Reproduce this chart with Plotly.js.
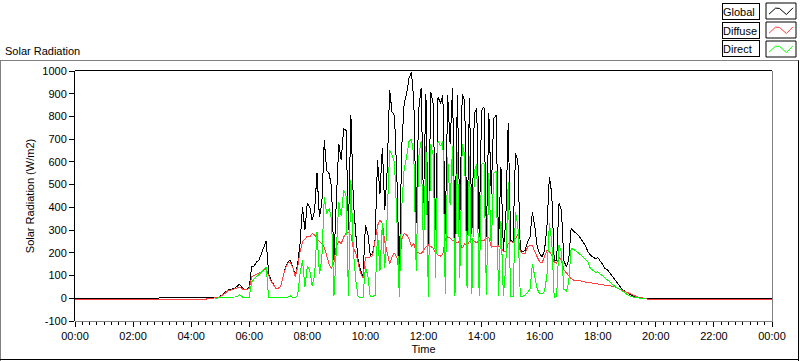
<!DOCTYPE html>
<html>
<head>
<meta charset="utf-8">
<script src="https://cdn.plot.ly/plotly-3.0.1.min.js"></script>
<style>
  html, body { margin: 0; padding: 0; background: #ffffff; }
  #chart { width: 800px; height: 361px; }
  .scatterlayer .js-line { shape-rendering: crispEdges; }
</style>
</head>
<body>
<div id="chart"></div>
<script>
// ---------------- DATA ----------------
const dayDate = '2024-01-01';
const nextDayDate = '2024-01-02';
const nightBefore = ['00:00', '04:30', '04:35', '04:40', '04:45'];
const nightAfter = ['19:50', '24:00'];
const slotStart = '04:50';
const slotEnd = '19:45';
const slotMinutes = 5;

const seriesNames = ['Global', 'Diffuse', 'Direct'];

const globalRad = [
  0, 0, 0, 0, 0,
  0, 2,
  9, 16, 25, 35, 38, 43, 45, 53, 62, 47, 40, 40,
  47, 138, 141, 160, 167, 196, 226, 252, 109, 79, 62, 43,
  45, 53, 97, 138, 160, 167, 138, 97, 152, 240, 402, 300,
  420, 402, 343, 387, 549, 358, 417, 695, 563, 549, 490, 167,
  431, 680, 607, 747, 739, 300, 805, 431, 285, 167, 123, 94,
  321, 285, 189, 197, 260, 607, 460, 663, 387, 563, 918, 820,
  805, 534, 109, 666, 857, 900, 967, 996, 870, 330, 827, 923,
  420, 900, 240, 908, 857, 300, 886, 857, 893, 285, 893, 680,
  923, 260, 893, 343, 900, 871, 280, 879, 285, 813, 835, 270,
  827, 842, 270, 813, 460, 790, 805, 235, 578, 210, 343, 770,
  255, 250, 637, 607, 211, 204, 211, 248, 270, 380, 314, 226,
  197, 182, 211, 314, 534, 460, 167, 167, 417, 387, 167, 138,
  167, 307, 296, 287, 277, 263, 248, 229, 204, 189, 182, 174,
  179, 167, 150, 130, 126, 111, 97, 82, 67, 53, 41, 32,
  25, 19, 13, 9, 6, 3, 1, 0, 0, 0,
  0, 0
];

const diffuseRad = [
  -5, -5, 0, 0, 0,
  0, 2,
  8, 14, 22, 32, 35, 40, 42, 46, 48, 42, 37, 37,
  44, 94, 101, 106, 111, 116, 126, 130, 101, 76, 60, 42,
  44, 52, 95, 135, 156, 158, 135, 95, 138, 204, 248, 262,
  273, 270, 285, 280, 260, 250, 240, 225, 190, 150, 130, 160,
  230, 250, 240, 270, 285, 290, 280, 220, 200, 160, 110, 90,
  180, 180, 182, 188, 250, 320, 343, 330, 250, 200, 153, 182,
  200, 180, 105, 260, 285, 280, 260, 230, 240, 205, 200, 195,
  210, 226, 235, 226, 220, 200, 190, 185, 195, 260, 270, 265,
  255, 250, 245, 250, 220, 240, 230, 250, 260, 250, 245, 255,
  255, 255, 262, 270, 226, 226, 226, 230, 226, 205, 204, 240,
  250, 245, 262, 280, 205, 197, 196, 226, 233, 233, 204, 182,
  160, 155, 182, 211, 205, 190, 160, 155, 180, 167, 125, 110,
  100, 87, 80, 77, 78, 76, 73, 71, 70, 68, 67, 66,
  64, 62, 60, 58, 57, 55, 52, 50, 45, 40, 35, 30,
  26, 21, 17, 12, 8, 5, 2, 0, -5, -5,
  -5, -5
];

const directRad = [
  null, null, null, null, null,
  0, 0,
  2, 3, 4, 4, 4, 4, 4, 6, 16, 6, 4, 4,
  4, 72, 86, 97, 104, 116, 126, 138, 3, 3, 3, 3,
  3, 3, 3, 3, 5, 10, 3, 3, 13, 108, 167, 50,
  140, 125, 55, 100, 290, 105, 175, 445, 370, 395, 350, 8,
  200, 425, 360, 477, 450, 12, 520, 210, 80, 6, 5, 4,
  140, 100, 6, 8, 12, 290, 120, 330, 135, 360, 650, 630,
  600, 350, 4, 400, 570, 620, 690, 700, 630, 120, 620, 690,
  200, 670, 5, 680, 630, 90, 690, 670, 690, 20, 620, 410,
  670, 8, 645, 90, 680, 630, 45, 625, 20, 560, 590, 10,
  590, 593, 15, 549, 220, 549, 560, 10, 340, 8, 140, 510,
  8, 6, 380, 320, 8, 10, 15, 25, 40, 150, 100, 40,
  20, 20, 30, 100, 329, 250, 5, 10, 235, 200, 40, 30,
  70, 219, 215, 209, 200, 190, 182, 170, 158, 130, 123, 115,
  116, 108, 100, 90, 82, 72, 62, 52, 45, 40, 34, 26,
  18, 12, 7, 4, 2, 1, 0, 0, 0, null,
  null, null
];

const yTickVals = [-100, 0, 100, 200, 300, 400, 500, 600, 700, 800, 900, 1000];
const yTickText = ['-100', '0', '100', '200', '300', '400', '500', '600', '700', '800', '900', '1000'];

// ---------------- BUILD TIME AXIS ----------------
function toMinutes(hhmm) { const p = hhmm.split(':'); return (+p[0]) * 60 + (+p[1]); }
function pad(n) { return (n < 10 ? '0' : '') + n; }
function toStamp(hhmm) {
  if (hhmm === '24:00') return nextDayDate + ' 00:00';
  return dayDate + ' ' + hhmm;
}
const timeLabels = nightBefore.slice();
for (let m = toMinutes(slotStart); m <= toMinutes(slotEnd); m += slotMinutes) {
  timeLabels.push(pad(Math.floor(m / 60)) + ':' + pad(m % 60));
}
nightAfter.forEach(t => timeLabels.push(t));
const xs = timeLabels.map(toStamp);

// ---------------- LAYOUT GEOMETRY ----------------
const W = 800, H = 361;
const PL = 75, PR = 772, PT = 71, PB = 321;
const px = x => (x - PL) / (PR - PL);
const py = y => (PB - y) / (PB - PT);

const FONT = 'Liberation Sans, Arial, sans-serif';
const colors = ['#000000', '#ff4040', '#00ff00'];
const seriesData = [globalRad, diffuseRad, directRad];

const traces = seriesNames.map((name, i) => ({
  type: 'scatter', mode: 'lines', name: name,
  x: xs, y: seriesData[i],
  line: { color: colors[i], width: 1 },
  connectgaps: false, showlegend: false, hoverinfo: 'skip'
}));

function lineShape(x0, y0, x1, y1, color) {
  return { type: 'line', xref: 'paper', yref: 'paper', x0: px(x0), y0: py(y0), x1: px(x1), y1: py(y1),
           line: { color: color, width: 1 }, layer: 'above' };
}

const shapes = [
  // outer panel frame
  lineShape(0, 60.5, 799, 60.5, '#808080'),
  lineShape(0.5, 60.5, 0.5, 361, '#808080'),
  lineShape(798.5, 60.5, 798.5, 361, '#000000'),
  lineShape(0, 359.5, 799, 359.5, '#000000'),
  // plot area frame
  lineShape(PL, PT - 0.5, PR, PT - 0.5, '#000000'),
  lineShape(PR + 0.5, PT, PR + 0.5, PB + 1, '#808080'),
  lineShape(PL, PB + 0.5, PR + 0.5, PB + 0.5, '#808080')
];

const annotations = [
  { text: 'Solar Radiation', xref: 'paper', yref: 'paper', x: px(3), y: py(51),
    xanchor: 'left', yanchor: 'middle', showarrow: false, font: { family: FONT, size: 11, color: '#000' } }
];

const legendRowsY = [11, 30, 49];
seriesNames.forEach((name, i) => {
  const yc = legendRowsY[i];
  annotations.push({
    text: name, xref: 'paper', yref: 'paper', x: px(722), y: py(yc),
    xanchor: 'left', yanchor: 'middle', showarrow: false, align: 'left',
    width: 36, height: 15, borderpad: 0, bordercolor: '#000000', borderwidth: 1, bgcolor: '#ffffff',
    font: { family: FONT, size: 11, color: '#000' }
  });
  const x0 = 766, x1 = 796, y0 = yc - 8, y1 = yc + 8;
  shapes.push({ type: 'rect', xref: 'paper', yref: 'paper', x0: px(x0), x1: px(x1), y0: py(y1), y1: py(y0),
                line: { color: '#000000', width: 1 }, fillcolor: '#ffffff', layer: 'above' });
  const pts = [[0.1, 0.7], [0.32, 0.32], [0.45, 0.34], [0.68, 0.72], [0.9, 0.3]];
  const path = pts.map((p, k) => (k ? 'L' : 'M') + px(x0 + p[0] * (x1 - x0)) + ',' + py(y0 + p[1] * (y1 - y0))).join(' ');
  shapes.push({ type: 'path', xref: 'paper', yref: 'paper', path: path,
                line: { color: colors[i], width: 1 }, layer: 'above' });
});

const layout = {
  width: W, height: H,
  margin: { l: PL, r: W - PR, t: PT, b: H - PB, pad: 0 },
  paper_bgcolor: '#ffffff', plot_bgcolor: '#ffffff',
  font: { family: FONT, size: 11, color: '#000000' },
  showlegend: false,
  xaxis: {
    type: 'date',
    range: [toStamp('00:00'), toStamp('24:00')],
    tick0: toStamp('00:00'), dtick: 2 * 3600 * 1000,
    tickformat: '%H:%M',
    ticks: 'outside', ticklen: 5, tickwidth: 1, tickcolor: '#000000',
    minor: { dtick: 15 * 60 * 1000, ticks: 'outside', ticklen: 3, tickwidth: 1, tickcolor: '#000000', showgrid: false },
    showgrid: false, zeroline: false, showline: false,
    tickfont: { family: FONT, size: 11, color: '#000' },
    title: { text: 'Time', font: { family: FONT, size: 11, color: '#000' }, standoff: 4 },
    fixedrange: true
  },
  yaxis: {
    range: [-100, 1000],
    tickmode: 'array', tickvals: yTickVals, ticktext: yTickText,
    ticks: 'outside', ticklen: 5, tickwidth: 1, tickcolor: '#000000',
    showgrid: false, zeroline: false,
    showline: true, linecolor: '#000000', linewidth: 1,
    tickfont: { family: FONT, size: 11, color: '#000' },
    title: { text: 'Solar Radiation (W/m2)', font: { family: FONT, size: 11, color: '#000' }, standoff: 5 },
    fixedrange: true
  },
  shapes: shapes,
  annotations: annotations
};

Plotly.newPlot('chart', traces, layout, { displayModeBar: false, staticPlot: true });
</script>
</body>
</html>
